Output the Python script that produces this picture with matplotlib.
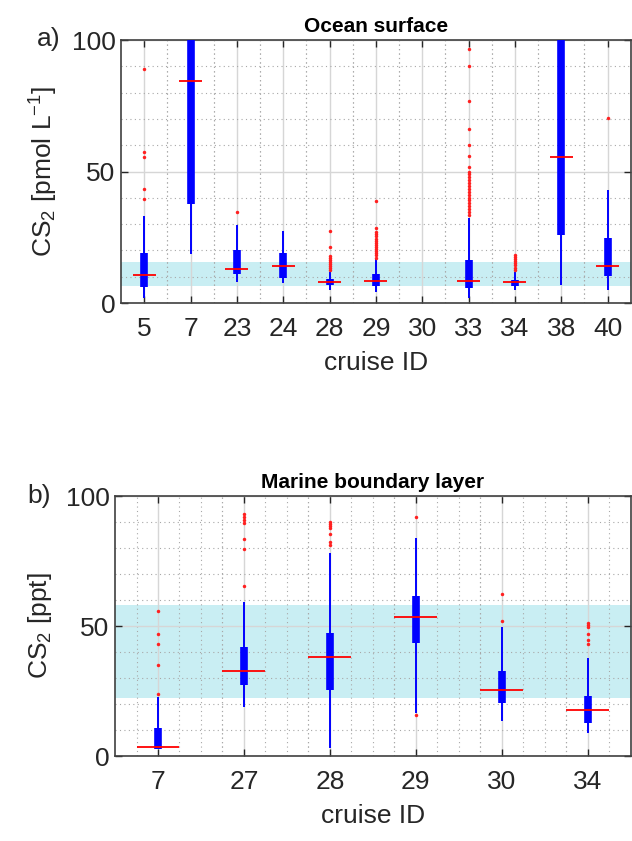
import matplotlib
matplotlib.use('Agg')
from matplotlib import pyplot as plt
from matplotlib.ticker import MultipleLocator, FixedLocator

plt.rcParams['font.family'] = ['Liberation Sans', 'DejaVu Sans']
plt.rcParams['mathtext.fontset'] = 'custom'
plt.rcParams['mathtext.rm'] = 'Liberation Sans'
plt.rcParams['mathtext.it'] = 'Liberation Sans:italic'

#==== a) ocean surface, pmol/L
surf_ids = ['5', '7', '23', '24', '28', '29', '30', '33', '34', '38', '40']
surf_wlo = [1.9, 18.6, 8.1, 7.5, 4.9, 4.3, None, 2.0, 4.9, 6.8, 4.9]
surf_q1 = [6.0, 37.6, 11.0, 9.4, 6.8, 6.5, None, 5.6, 6.5, 25.9, 10.3]
surf_med = [10.6, 84.5, 12.8, 13.9, 7.9, 8.4, None, 8.5, 7.9, 55.6, 13.9]
surf_q3 = [19.1, 115.0, 20.2, 19.1, 9.1, 10.9, None, 16.3, 8.7, 115.0, 24.6]
surf_whi = [33.1, 130.0, 29.7, 27.5, 11.9, 16.6, None, 32.4, 11.9, 130.0, 43.0]
surf_out = [
    [39.4, 43.2, 55.4, 57.5, 88.9],
    [],
    [34.7],
    [],
    [12.5, 13.3, 14.1, 14.9, 15.6, 16.4, 17.2, 17.9, 21.4, 27.5],
    [17.3, 18.1, 18.9, 19.7, 20.5, 21.3, 22.1, 22.9, 23.7, 24.5, 25.3, 26.1,
     26.9, 28.4, 38.9],
    [],
    [33.5, 34.6, 35.7, 36.8, 37.9, 39.0, 40.1, 41.2, 42.3, 43.4, 44.5, 45.6,
     46.7, 47.8, 48.9, 50.0, 51.8, 55.9, 60.1, 66.2, 76.8, 90.2, 96.4],
    [12.7, 13.5, 14.3, 15.1, 15.9, 16.7, 17.5, 18.3],
    [],
    [70.5],
]
surf_band = (6.5, 15.6)

#==== b) marine boundary layer, ppt
mbl_ids = ['7', '27', '28', '29', '30', '34']
mbl_wlo = [2.9, 19.0, 3.2, 16.7, 13.5, 8.7]
mbl_q1 = [2.9, 27.3, 25.6, 43.6, 20.6, 12.6]
mbl_med = [3.6, 32.7, 38.2, 53.6, 25.4, 17.6]
mbl_q3 = [10.9, 41.8, 47.4, 61.5, 32.8, 23.2]
mbl_whi = [22.8, 59.1, 78.3, 84.0, 49.7, 37.8]
mbl_out = [
    [23.7, 35.0, 43.1, 46.8, 55.8],
    [65.4, 79.5, 83.5, 89.5, 90.8, 92.0, 93.0],
    [81.2, 82.4, 85.6, 87.6, 88.4, 89.2, 90.1],
    [15.8, 92.0],
    [51.9, 62.2],
    [43.0, 44.6, 46.8, 49.7, 50.5, 51.3],
]
mbl_band = (22.3, 58.1)

txt = '#262626'
fs = 19


def panel(ax, ids, wlo, q1, med, q3, whi, out, band, title, ylab, minor_step):
    n = len(ids)
    ax.axhspan(band[0], band[1], color='#c9eef3', zorder=0.2, lw=0)
    for i in range(n):
        x = i + 1
        if med[i] is None:
            continue
        ax.vlines(x, wlo[i], whi[i], color='#0000ff', lw=1.4, zorder=3)
        ax.vlines(x, q1[i], q3[i], color='#0000ff', lw=5.5, zorder=3)
        ax.hlines(med[i], x - 0.25, x + 0.25, color='#ff0000', lw=1.3, zorder=4)
        if out[i]:
            ax.plot([x] * len(out[i]), out[i], 'o', color='#ff2020', ms=2.5,
                    mew=0, zorder=4)
    ax.set_xlim(0.5, n + 0.5)
    ax.set_ylim(0, 100)
    ax.set_xticks(range(1, n + 1))
    ax.set_xticklabels(ids)
    mx = [i + 1 + d for i in range(n) for d in minor_step]
    mx = [m for m in mx if 0.5 < m < n + 0.5]
    ax.xaxis.set_minor_locator(FixedLocator(mx))
    ax.set_yticks([0, 50, 100])
    ax.yaxis.set_minor_locator(MultipleLocator(10))
    ax.set_axisbelow(True)
    ax.grid(which='major', color='#d6d6d6', lw=1.0, ls='-')
    ax.grid(which='minor', color='#a8a8a8', lw=0.8, ls=(0, (1, 3)))
    ax.tick_params(which='major', direction='in', length=5, top=True,
                   right=True, labelsize=fs, colors=txt, width=1)
    ax.tick_params(axis='x', which='major', pad=10)
    ax.tick_params(axis='y', which='major', pad=4)
    ax.tick_params(which='minor', length=0)
    for s in ax.spines.values():
        s.set_color('#404040')
        s.set_linewidth(1.2)
    ax.set_title(title, fontsize=15, fontweight='bold', pad=6)
    ax.set_xlabel('cruise ID', fontsize=fs, color=txt, labelpad=7)
    ax.set_ylabel(ylab, fontsize=fs, color=txt, labelpad=8)


fig = plt.figure(figsize=(6.32, 8.41), dpi=100)
ax1 = fig.add_axes([0.1915, 0.6397, 0.8065, 0.3127])
ax2 = fig.add_axes([0.182, 0.101, 0.816, 0.309])

panel(ax1, surf_ids, surf_wlo, surf_q1, surf_med, surf_q3, surf_whi, surf_out,
      surf_band, 'Ocean surface', 'CS$_2$ [pmol L$^{-1}$]', [-0.5, 0.5])
panel(ax2, mbl_ids, mbl_wlo, mbl_q1, mbl_med, mbl_q3, mbl_whi, mbl_out,
      mbl_band, 'Marine boundary layer', 'CS$_2$ [ppt]',
      [-0.25, 0.25, 0.5, 0.75])

fig.text(0.058, 0.954, 'a)', fontsize=fs, color=txt, va='center')
fig.text(0.044, 0.41, 'b)', fontsize=fs, color=txt, va='center')

fig.savefig('out.png', dpi=100)
